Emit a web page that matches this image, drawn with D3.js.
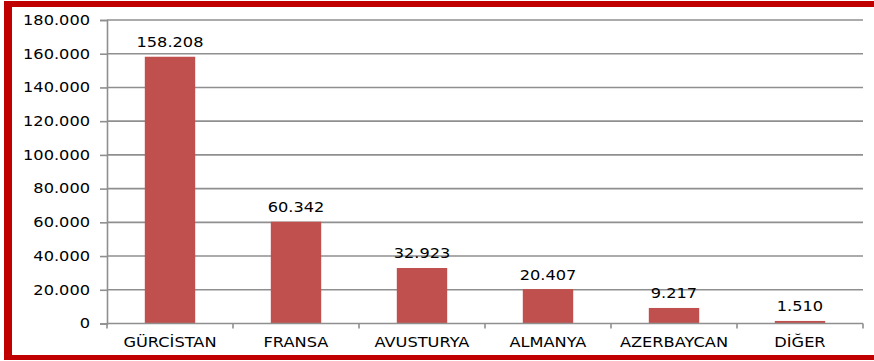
<!DOCTYPE html>
<html>
<head>
<meta charset="utf-8">
<script src="https://cdn.jsdelivr.net/npm/d3@7"></script>
<style>
  html, body { margin: 0; padding: 0; background: #fff; }
  svg { display: block; }
  text { font-family: "DejaVu Sans", Verdana, sans-serif; font-size: 13.5px; fill: #000; }
  .wide-end { transform-box: fill-box; transform-origin: 100% 50%; transform: scaleX(1.2); }
  .wide-mid { transform-box: fill-box; transform-origin: 50% 50%; transform: scaleX(1.2); }
</style>
</head>
<body>
<svg id="chart" width="874" height="361"></svg>
<script>
// Countries and their values
const categories = ["GÜRCİSTAN", "FRANSA", "AVUSTURYA", "ALMANYA", "AZERBAYCAN", "DİĞER"];
const values = [158208, 60342, 32923, 20407, 9217, 1510];
const yTicks = [0, 20000, 40000, 60000, 80000, 100000, 120000, 140000, 160000, 180000];

const fmt = d3.formatLocale({ decimal: ",", thousands: ".", grouping: [3], currency: ["", ""] }).format(",");

const svg = d3.select("#chart");
const plot = { left: 107, right: 863, top: 20, bottom: 323.5 };

const x = d3.scaleBand().domain(categories).range([plot.left, plot.right]).padding(0);
const y = d3.scaleLinear().domain([0, 180000]).range([plot.bottom, plot.top]);
const gridColor = "#8f8f8f";

// Frame
svg.append("rect").attr("x", 4).attr("y", 1).attr("width", 874).attr("height", 6).attr("fill", "#c00000");
svg.append("rect").attr("x", 4).attr("y", 1).attr("width", 8).attr("height", 359).attr("fill", "#c00000");
svg.append("rect").attr("x", 4).attr("y", 355).attr("width", 874).attr("height", 5).attr("fill", "#c00000");

// Horizontal gridlines
svg.append("g").selectAll("line").data(yTicks.filter(d => d > 0)).join("line")
  .attr("x1", plot.left).attr("x2", plot.right)
  .attr("y1", d => y(d)).attr("y2", d => y(d))
  .attr("stroke", gridColor).attr("stroke-width", 1.6);

// Y axis
const yAxis = svg.append("g").attr("transform", `translate(${plot.left},0)`)
  .call(d3.axisLeft(y).tickValues(yTicks).tickFormat(fmt).tickSize(7).tickPadding(10));
yAxis.select(".domain").attr("stroke", gridColor).attr("stroke-width", 1.6);
yAxis.selectAll(".tick line").attr("stroke", gridColor).attr("stroke-width", 1.6);
yAxis.selectAll("text").attr("class", "wide-end").style("font-size", "13.5px")
  .style("font-family", "'DejaVu Sans', Verdana, sans-serif").attr("fill", "#000");

// Bars
const barW = x.bandwidth() * 0.4;
svg.append("g").selectAll("rect").data(values).join("rect")
  .attr("x", (d, i) => x(categories[i]) + (x.bandwidth() - barW) / 2)
  .attr("width", barW)
  .attr("y", d => y(d))
  .attr("height", d => y(0) - y(d))
  .attr("fill", "#c0504d");

// X axis line and boundary ticks
svg.append("line").attr("x1", plot.left).attr("x2", plot.right).attr("y1", y(0)).attr("y2", y(0))
  .attr("stroke", gridColor).attr("stroke-width", 1.6);
const bounds = categories.map(c => x(c)).concat([plot.right]);
svg.append("g").selectAll("line").data(bounds).join("line")
  .attr("x1", d => d).attr("x2", d => d)
  .attr("y1", y(0)).attr("y2", y(0) + 5)
  .attr("stroke", gridColor).attr("stroke-width", 1.6);

// Category labels
svg.append("g").selectAll("text").data(categories).join("text")
  .attr("class", "wide-mid")
  .attr("x", d => x(d) + x.bandwidth() / 2)
  .attr("y", 347.5)
  .attr("text-anchor", "middle")
  .text(d => d);

// Value labels
svg.append("g").selectAll("text").data(values).join("text")
  .attr("class", "wide-mid")
  .attr("x", (d, i) => x(categories[i]) + x.bandwidth() / 2)
  .attr("y", d => y(d) - 9.5)
  .attr("text-anchor", "middle")
  .text(d => fmt(d));
</script>
</body>
</html>
